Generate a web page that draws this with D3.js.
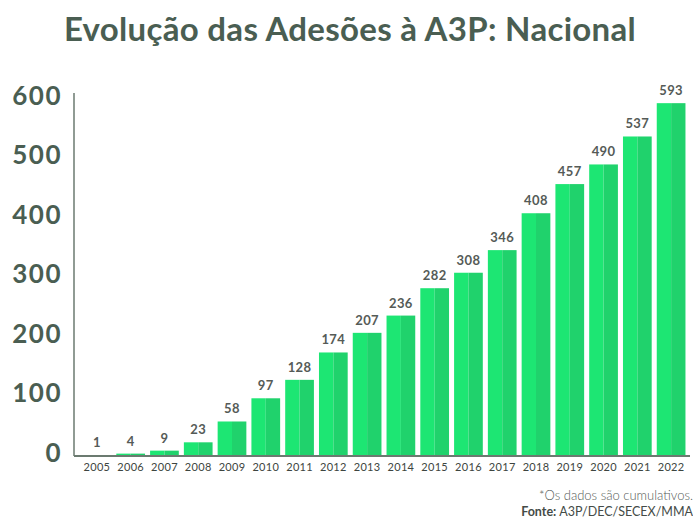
<!DOCTYPE html>
<html>
<head>
  <meta charset="utf-8">
  <title>Evolução das Adesões à A3P: Nacional</title>
  <script src="https://d3js.org/d3.v7.min.js"></script>
  <style>
    body { margin: 0; background: #fff; }
    svg { display: block; font-family: "Lato", "Open Sans", sans-serif; }
  </style>
</head>
<body>
  <div id="chart"></div>

  <script>
    var years = ["2005", "2006", "2007", "2008", "2009", "2010", "2011", "2012", "2013",
                 "2014", "2015", "2016", "2017", "2018", "2019", "2020", "2021", "2022"];
    var adesoes = [1, 4, 9, 23, 58, 97, 128, 174, 207, 236, 282, 308, 346, 408, 457, 490, 537, 593];
    var yTicks = [0, 100, 200, 300, 400, 500, 600];

    var data = years.map(function(y, i) { return {year: y, value: adesoes[i]}; });

    var width = 693, height = 518;
    var dark = "#4a5e52";

    var svg = d3.select("#chart")
      .append("svg")
      .attr("width", width)
      .attr("height", height);

    var x = d3.scaleBand()
      .domain(years)
      .range([80, 688])
      .paddingInner(0.15)
      .paddingOuter(0.075);

    var y = d3.scaleLinear()
      .domain([0, 600])
      .range([456, 99]);

    // title
    svg.append("text")
      .attr("x", 350)
      .attr("y", 41)
      .attr("text-anchor", "middle")
      .attr("fill", dark)
      .style("font-size", "33px")
      .style("font-weight", "bold")
      .style("letter-spacing", "0.3px")
      .text("Evolução das Adesões à A3P: Nacional");

    // bars: two tone, left half lighter
    var bars = svg.selectAll("g.bar")
      .data(data)
      .enter()
      .append("g")
      .attr("class", "bar");

    bars.append("rect")
      .attr("x", function(d) { return x(d.year); })
      .attr("y", function(d) { return y(d.value); })
      .attr("width", x.bandwidth() / 2)
      .attr("height", function(d) { return y(0) - y(d.value); })
      .attr("fill", "#1de673");

    bars.append("rect")
      .attr("x", function(d) { return x(d.year) + x.bandwidth() / 2; })
      .attr("y", function(d) { return y(d.value); })
      .attr("width", x.bandwidth() / 2)
      .attr("height", function(d) { return y(0) - y(d.value); })
      .attr("fill", "#20d26c");

    bars.append("text")
      .attr("x", function(d) { return x(d.year) + x.bandwidth() / 2; })
      .attr("y", function(d) { return y(d.value) - 8; })
      .attr("text-anchor", "middle")
      .attr("fill", "#555b57")
      .style("font-size", "13px")
      .style("font-weight", "bold")
      .style("letter-spacing", "0.4px")
      .text(function(d) { return d.value; });

    // y axis
    var yAxis = svg.append("g")
      .attr("transform", "translate(74,0)")
      .call(d3.axisLeft(y).tickValues(yTicks).tickSize(0).tickPadding(12));
    yAxis.select(".domain").attr("stroke", "#6b7a70").attr("stroke-width", 1.5)
      .attr("d", "M0," + (y(600) - 6) + "V" + y(0));
    yAxis.selectAll("text")
      .attr("fill", dark)
      .attr("dy", "0.2em")
      .style("font-size", "26px")
      .style("font-weight", "bold")
      .style("letter-spacing", "1.5px")
      .style("font-family", "Lato, sans-serif");

    // x axis
    var xAxis = svg.append("g")
      .attr("transform", "translate(0," + y(0) + ")")
      .call(d3.axisBottom(x).tickSize(0).tickPadding(7));
    xAxis.select(".domain").attr("stroke", "#6b7a70").attr("stroke-width", 2)
      .attr("d", "M74,0H690");
    xAxis.selectAll("text")
      .attr("fill", "#3d4540")
      .style("font-size", "11px")
      .style("letter-spacing", "0.3px")
      .style("font-family", "Lato, sans-serif");

    // notes
    svg.append("text")
      .attr("x", 693)
      .attr("y", 500)
      .attr("text-anchor", "end")
      .attr("fill", "#555b57")
      .style("font-size", "13px")
      .style("font-weight", "300")
      .text("*Os dados são cumulativos.");

    var fonte = svg.append("text")
      .attr("x", 693)
      .attr("y", 516)
      .attr("text-anchor", "end")
      .attr("fill", "#444b47")
      .style("font-size", "12.5px");
    fonte.append("tspan").style("font-weight", "bold").text("Fonte: ");
    fonte.append("tspan").text("A3P/DEC/SECEX/MMA");
  </script>
</body>
</html>
